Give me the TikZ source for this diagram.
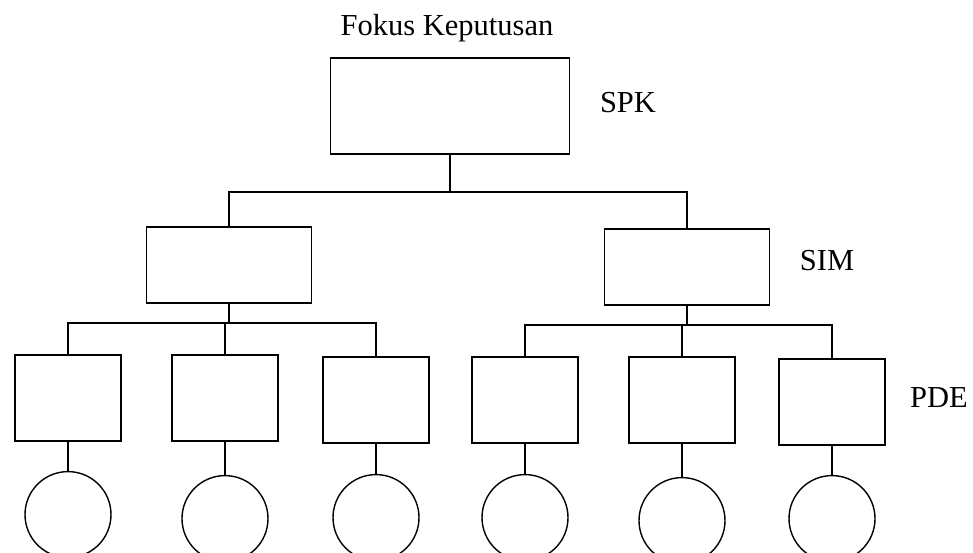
\documentclass[tikz,border=0pt]{standalone}
\usepackage{fontspec}
\setmainfont{Liberation Serif}
\usetikzlibrary{positioning}
\tikzset{
  topbox/.style={draw, line width=1.8pt, minimum width=239pt, minimum height=96pt, inner sep=0pt},
  midbox/.style={draw, line width=1.8pt, minimum width=165pt, minimum height=76pt, inner sep=0pt},
  leafbox/.style={draw, line width=1.8pt, minimum width=106pt, minimum height=86pt, inner sep=0pt},
  altcirc/.style={draw, circle, line width=1.4pt, minimum size=86pt, inner sep=0pt},
  lbl/.style={font=\fontsize{30.5}{36}\selectfont, inner sep=0pt},
  conn/.style={line width=1.8pt}
}
\begin{document}
\begin{tikzpicture}[x=1pt, y=-1pt]
  \useasboundingbox (0,0) rectangle (973,553);
  \clip (0,0) rectangle (973,553);

  % fokus keputusan
  \node[topbox] (top) at (450,106) {};
  \node[lbl] (fokus) at (447,28) {Fokus Keputusan};
  \node[lbl] (spk) at (628,103) {SPK};

  % level kriteria
  \node[midbox] (midL) at (229,265) {};
  \node[midbox] (midR) at (687,267) {};
  \node[lbl] (sim) at (827,261) {SIM};

  \coordinate (barT) at (450,192);
  \coordinate (barL) at (229,323);
  \coordinate (barR) at (687,325);

  % level subkriteria
  \node[leafbox] (b1) at (68,398) {};
  \node[leafbox] (b2) at (225,398) {};
  \node[leafbox] (b3) at (376,400) {};
  \node[leafbox] (b4) at (525,400) {};
  \node[leafbox] (b5) at (682,400) {};
  \node[leafbox] (b6) at (832,402) {};
  \node[lbl] (pde) at (939,398) {PDE};

  % alternatif
  \node[altcirc, below=29pt of b1] (c1) {};
  \node[altcirc, below=33pt of b2] (c2) {};
  \node[altcirc, below=30pt of b3] (c3) {};
  \node[altcirc, below=30pt of b4] (c4) {};
  \node[altcirc, below=33pt of b5] (c5) {};
  \node[altcirc, below=29pt of b6] (c6) {};

  \draw[conn] (top.south) -- (barT);
  \draw[conn] (midL.north) |- (barT) -| (midR.north);

  \draw[conn] (midL.south) -- (barL);
  \draw[conn] (b1.north) |- (barL) -| (b3.north);
  \draw[conn] (b2.north) -- (b2.north |- barL);

  \draw[conn] (midR.south) -- (barR);
  \draw[conn] (b4.north) |- (barR) -| (b6.north);
  \draw[conn] (b5.north) -- (b5.north |- barR);

  \draw[conn] (b1) -- (c1);
  \draw[conn] (b2) -- (c2);
  \draw[conn] (b3) -- (c3);
  \draw[conn] (b4) -- (c4);
  \draw[conn] (b5) -- (c5);
  \draw[conn] (b6) -- (c6);
\end{tikzpicture}
\end{document}
